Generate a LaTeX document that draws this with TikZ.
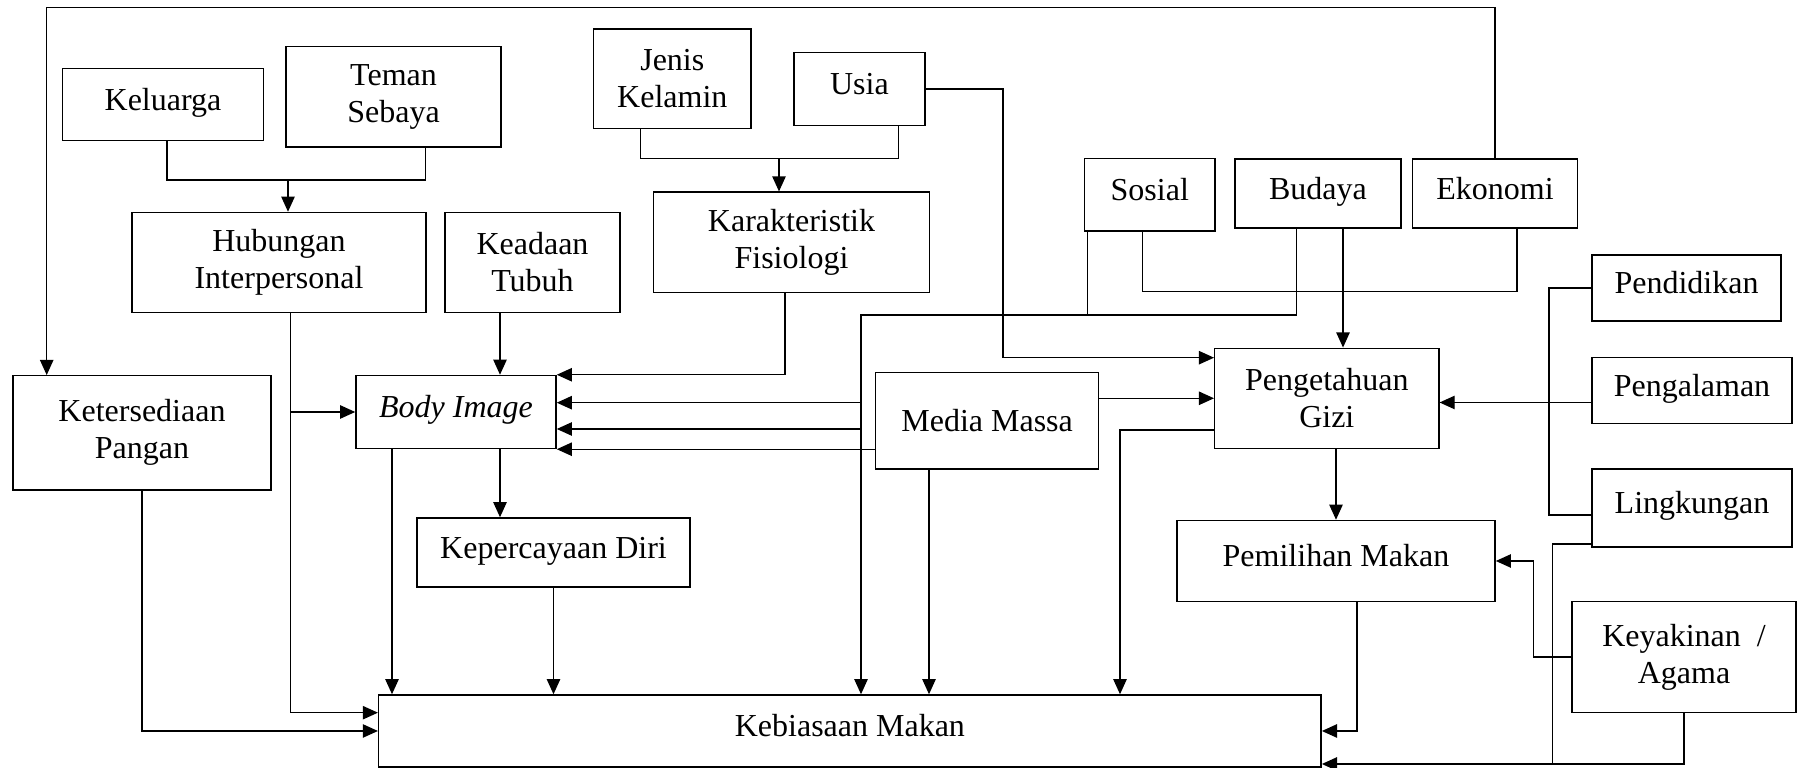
\documentclass[tikz,border=0pt]{standalone}
\usepackage{fontspec}
\setmainfont{Liberation Serif}
\usepackage{tikz}
\usetikzlibrary{arrows.meta}

\begin{document}
\begin{tikzpicture}[x=0.01cm, y=-0.01cm, line width=0.4pt,
font=\fontsize{9.1}{10.5}\selectfont,
box/.style={draw, inner sep=0pt, align=center},
one/.style={text height=1.5ex, text depth=.8ex},
arr/.style={-{Triangle[length=4.3pt,width=3.8pt]}}]
\useasboundingbox (0,0) rectangle (1803,768);

\node[box, one, minimum width=2.01cm, minimum height=.72cm] (keluarga) at (163,104.5) {Keluarga};
\node[box, minimum width=2.15cm, minimum height=1cm] (teman) at (393.5,96.8) {Teman\\Sebaya};
\node[box, minimum width=2.94cm, minimum height=1cm] (hubungan) at (279,262.5) {Hubungan\\Interpersonal};
\node[box, minimum width=1.75cm, minimum height=1cm] (keadaan) at (532.5,262.5) {Keadaan\\Tubuh};
\node[box, minimum width=1.57cm, minimum height=.99cm] (jenis) at (672.3,78.7) {Jenis\\Kelamin};
\node[box, one, minimum width=1.31cm, minimum height=.73cm] (usia) at (859.4,89.2) {Usia};
\node[box, minimum width=2.76cm, minimum height=1cm] (karakteristik) at (791.5,242.2) {Karakteristik\\Fisiologi};
\node[box, one, minimum width=1.3cm, minimum height=.72cm] (sosial) at (1149.8,194.8) {Sosial};
\node[box, one, minimum width=1.66cm, minimum height=.69cm] (budaya) at (1317.9,193.5) {Budaya};
\node[box, one, minimum width=1.65cm, minimum height=.69cm] (ekonomi) at (1495,193.5) {Ekonomi};
\node[box, one, minimum width=1.89cm, minimum height=.66cm] (pendidikan) at (1686.5,288) {Pendidikan};
\node[box, one, minimum width=2cm, minimum height=.66cm] (pengalaman) at (1692,390.5) {Pengalaman};
\node[box, one, minimum width=2cm, minimum height=.78cm] (lingkungan) at (1692,508) {Lingkungan};
\node[box, minimum width=2.24cm, minimum height=1cm] (pengetahuan) at (1326.8,398.3) {Pengetahuan\\Gizi};
\node[box, minimum width=2.23cm, minimum height=.96cm] (mediamassa) at (987.1,420.8) {Media Massa};
\node[box, one, minimum width=2cm, minimum height=.73cm] (bodyimage) at (456,412) {\textit{Body Image}};
\node[box, minimum width=2.58cm, minimum height=1.14cm] (ketersediaan) at (142,432.8) {Ketersediaan\\Pangan};
\node[box, one, minimum width=2.73cm, minimum height=.69cm] (kepercayaan) at (553.5,552.5) {Kepercayaan Diri};
\node[box, one, minimum width=3.18cm, minimum height=.81cm] (pemilihan) at (1336,561) {Pemilihan Makan};
\node[box, minimum width=2.24cm, minimum height=1.11cm] (keyakinan) at (1684,657.2) {Keyakinan\enspace/\\Agama};
\node[box, one, minimum width=9.42cm, minimum height=.72cm] (kebiasaan) at (849.9,731) {Kebiasaan Makan};

\coordinate (kt) at (288,180);
\coordinate (ju) at (779,158.3);
\coordinate (top) at (46.7,7.3);
\coordinate (u1) at (1003,357.7);
\coordinate (bus) at (1549,402.5);
\coordinate (l1) at (1552.7,764);

\draw (keluarga.south -| 167,0) |- (kt) -| (teman.south -| 425.5,0);
\draw[arr] (kt) -- (kt |- hubungan.north);
\draw (jenis.south -| 640.5,0) |- (ju) -| (usia.south -| 898.7,0);
\draw[arr] (ju) -- (ju |- karakteristik.north);
\draw[arr] (ekonomi.north) |- (top) -- (top |- ketersediaan.north);
\draw[arr] (hubungan.south -| 290.6,0) |- (kebiasaan.west |- 0,712.7);
\draw[arr] (bodyimage.west -| 290.6,0) -- (bodyimage.west);
\draw[arr] (ketersediaan.south) |- (kebiasaan.west);
\draw[arr] (keadaan.south -| 500,0) -- (bodyimage.north -| 500,0);
\draw[arr] (karakteristik.south -| 785,0) |- (bodyimage.north east);
\draw (sosial.south -| 1087.3,0) -- (1087.3,315);
\draw[arr] (budaya.south -| 1296.5,0) |- (861,315) -- (kebiasaan.north -| 861,0);
\draw[arr] (861,402.7) -- (bodyimage.east |- 0,402.7);
\draw[arr] (861,429) -- (bodyimage.east |- 0,429);
\draw[arr] (mediamassa.west |- bodyimage.south east) -- (bodyimage.south east);
\draw[arr] (mediamassa.east |- pengetahuan.west) -- (pengetahuan.west);
\draw[arr] (mediamassa.south -| 929,0) -- (kebiasaan.north -| 929,0);
\draw[arr] (usia.east) -| (u1) -- (u1 -| pengetahuan.west);
\draw[arr] (budaya.south -| 1343,0) -- (pengetahuan.north -| 1343,0);
\draw (sosial.south -| 1142.3,0) |- (1517,291.5) -- (ekonomi.south -| 1517,0);
\draw[arr] (pengetahuan.west |- 0,430) -| (kebiasaan.north -| 1120,0);
\draw[arr] (pemilihan.north |- pengetahuan.south) -- (pemilihan.north);
\draw[arr] (bodyimage.south -| 392,0) -- (kebiasaan.north -| 392,0);
\draw[arr] (bodyimage.south -| 500,0) -- (kepercayaan.north -| 500,0);
\draw[arr] (kepercayaan.south) -- (kepercayaan.south |- kebiasaan.north);
\draw[arr] (pemilihan.south -| 1356.8,0) |- (kebiasaan.east);
\draw (pendidikan.west) -| (bus) |- (lingkungan.west |- 0,515);
\draw[arr] (pengalaman.west |- bus) -- (bus -| pengetahuan.east);
\draw[arr] (lingkungan.south west |- 0,544) -| (l1) -- (l1 -| kebiasaan.east);
\draw (keyakinan.south) |- (l1);
\draw[arr] (keyakinan.west) -| (pemilihan.east -| 1533.6,0) -- (pemilihan.east);
\end{tikzpicture}
\end{document}
